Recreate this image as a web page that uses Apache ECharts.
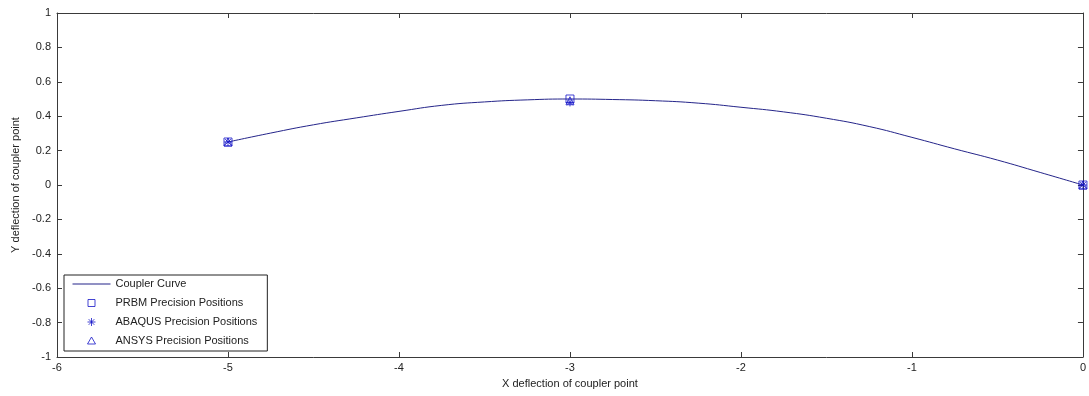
<!DOCTYPE html>
<html>
<head>
<meta charset="utf-8">
<title>Coupler Curve</title>
<script src="https://cdn.jsdelivr.net/npm/echarts@6/dist/echarts.min.js"></script>
<style>
  html, body { margin: 0; padding: 0; background: #fff; }
  #main { width: 1089px; height: 396px; }
</style>
</head>
<body>
<div id="main"></div>
<script>
// coupler curve
var curveX = [-5, -4.75, -4.5, -4.25, -4, -3.75, -3.5, -3.25, -3, -2.75, -2.5, -2.25, -2, -1.75, -1.5, -1.25, -1, -0.75, -0.5, -0.25, 0];
var curveY = [0.25, 0.302, 0.35, 0.39, 0.428, 0.463, 0.483, 0.495, 0.5, 0.497, 0.49, 0.476, 0.452, 0.425, 0.388, 0.34, 0.277, 0.21, 0.145, 0.073, 0];

// precision positions
var posX = [-5, -3, 0];
var prbmY = [0.25, 0.5, 0];
var abaqusY = [0.25, 0.48, 0];
var ansysY = [0.25, 0.49, 0];

function pairs(xs, ys) {
    return xs.map(function(x, i) { return [x, ys[i]]; });
}

var myChart = echarts.init(document.getElementById('main'));

var axisColor = '#3a3a3a';
var markColor = '#1515c8';
var lineColor = '#25258a';
var fontFam = '"Liberation Sans", Arial, sans-serif';
var starPath = 'path://M0,-5L0,5M-5,0L5,0M-3.6,-3.6L3.6,3.6M-3.6,3.6L3.6,-3.6';

// legend icons: the leading moveTo points pad the box to 38x12 so the marks keep their size
var box = 'M-19,-6M19,6';
var lineIcon = 'path://' + box + 'M-19,-0.5L19,-0.5L19,0.5L-19,0.5Z';
var rectIcon = 'path://' + box + 'M-3.5,-3.5L3.5,-3.5L3.5,3.5L-3.5,3.5Z';
var starIcon = 'path://' + box + 'M0,-4L0,4M-4,0L4,0M-2.8,-2.8L2.8,2.8M-2.8,2.8L2.8,-2.8';
var triIcon = 'path://' + box + 'M0,-4L4,3L-4,3Z';

var hollow = { color: 'rgba(255,255,255,0)', borderColor: markColor, borderWidth: 1 };

function frameAxis(extra) {
    var ax = {
        type: 'value',
        axisLine: { show: true, onZero: false, lineStyle: { color: axisColor } },
        axisTick: { inside: true, length: 5, lineStyle: { color: axisColor } },
        axisLabel: { show: false },
        splitLine: { show: false }
    };
    for (var k in extra) ax[k] = extra[k];
    return ax;
}

var option = {
    backgroundColor: '#ffffff',
    animation: false,
    textStyle: { fontFamily: fontFam },
    grid: { left: 57, right: 1, top: 13, bottom: 39 },
    legend: {
        orient: 'vertical',
        left: 64,
        top: 275,
        backgroundColor: '#ffffff',
        borderColor: '#222',
        borderWidth: 1,
        padding: [2, 10, 3, 8],
        itemGap: 5,
        itemWidth: 38,
        itemHeight: 12,
        textStyle: { fontSize: 11, color: '#222', fontFamily: fontFam, lineHeight: 14 },
        data: [
            { name: 'Coupler Curve', icon: lineIcon },
            { name: 'PRBM Precision Positions', icon: rectIcon, itemStyle: hollow },
            { name: 'ABAQUS Precision Positions', icon: starIcon, itemStyle: hollow },
            { name: 'ANSYS Precision Positions', icon: triIcon, itemStyle: hollow }
        ]
    },
    xAxis: [
        frameAxis({
            min: -6, max: 0, interval: 1,
            name: 'X deflection of coupler point',
            nameLocation: 'middle',
            nameGap: 21,
            nameTextStyle: { fontSize: 11, color: '#222' },
            axisLabel: { show: true, fontSize: 11, color: '#222', margin: 5 }
        }),
        frameAxis({ position: 'top', min: -6, max: 0, interval: 1 })
    ],
    yAxis: [
        frameAxis({
            min: -1, max: 1, interval: 0.2,
            name: 'Y deflection of coupler point',
            nameLocation: 'middle',
            nameGap: 31,
            nameTextStyle: { fontSize: 11, color: '#222' },
            axisLabel: { show: true, fontSize: 11, color: '#222', margin: 6 }
        }),
        frameAxis({ position: 'right', min: -1, max: 1, interval: 0.2 })
    ],
    series: [{
        name: 'Coupler Curve',
        type: 'line',
        data: pairs(curveX, curveY),
        smooth: true,
        symbol: 'none',
        lineStyle: { color: lineColor, width: 1 },
        itemStyle: { color: lineColor }
    }, {
        name: 'PRBM Precision Positions',
        type: 'scatter',
        data: pairs(posX, prbmY),
        symbol: 'rect',
        symbolSize: 8,
        itemStyle: hollow,
        z: 4
    }, {
        name: 'ABAQUS Precision Positions',
        type: 'scatter',
        data: pairs(posX, abaqusY),
        symbol: starPath,
        symbolSize: 8,
        itemStyle: hollow,
        z: 5
    }, {
        name: 'ANSYS Precision Positions',
        type: 'scatter',
        data: pairs(posX, ansysY),
        symbol: 'triangle',
        symbolSize: 8,
        itemStyle: hollow,
        z: 4
    }]
};

myChart.setOption(option);

window.onresize = function() {
    myChart.resize();
};
</script>
</body>
</html>
